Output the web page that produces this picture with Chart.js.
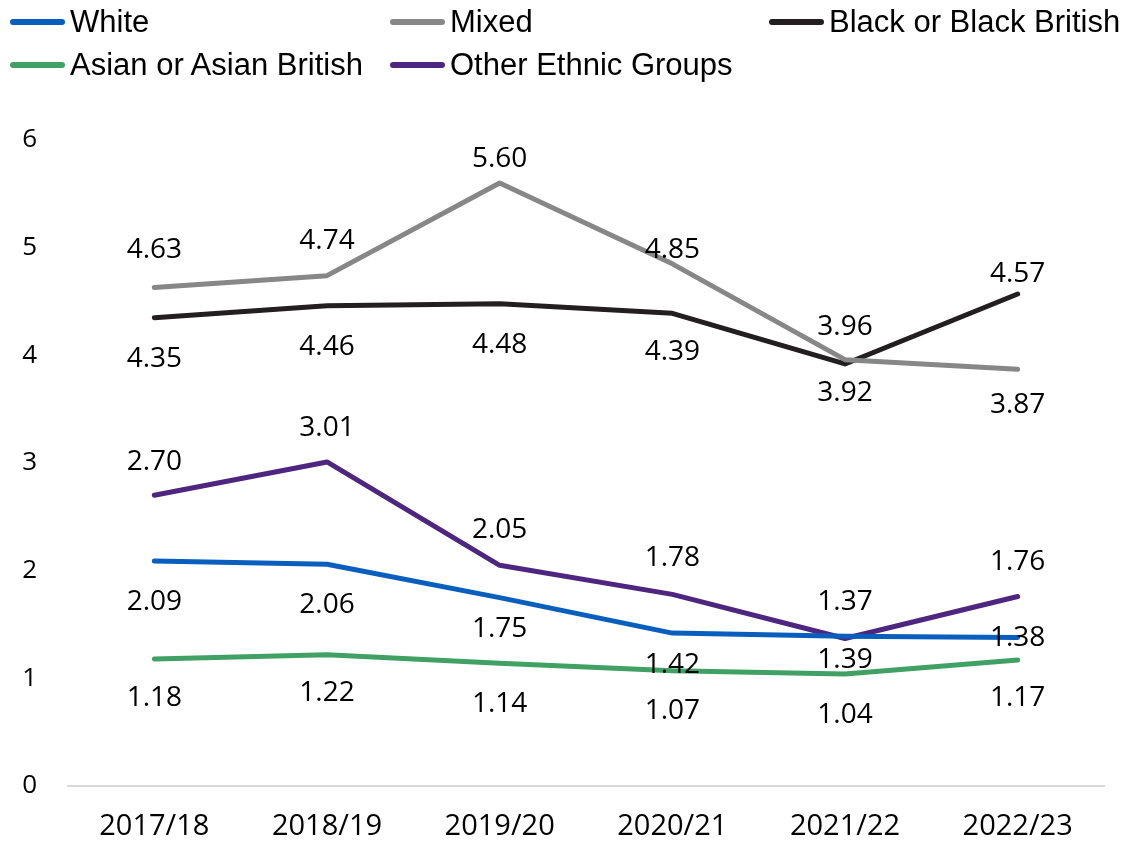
<!DOCTYPE html>
<html>
<head>
<meta charset="utf-8">
<script src="https://cdn.jsdelivr.net/npm/chart.js@4"></script>
<style>
  body { margin: 0; background: #fff; }
  #wrap { position: relative; width: 1130px; height: 842px; }
  #legend {
    position: absolute; left: 0; top: 0; width: 1130px; height: 90px;
    font-family: "Liberation Sans", Arial, sans-serif; font-size: 31px; color: #000;
  }
  .item { position: absolute; display: flex; align-items: center; white-space: nowrap; }
  .swatch { width: 55px; height: 6px; border-radius: 3px; margin-right: 5px; }
</style>
</head>
<body>
<div id="wrap">
  <canvas id="grafico"></canvas>
  <div id="legend"></div>
</div>
<script>
// Anos letivos
const years = ['2017/18', '2018/19', '2019/20', '2020/21', '2021/22', '2022/23'];

// Taxas por grupo étnico
const white = [2.09, 2.06, 1.75, 1.42, 1.39, 1.38];
const mixed = [4.63, 4.74, 5.60, 4.85, 3.96, 3.87];
const black = [4.35, 4.46, 4.48, 4.39, 3.92, 4.57];
const asian = [1.18, 1.22, 1.14, 1.07, 1.04, 1.17];
const other = [2.70, 3.01, 2.05, 1.78, 1.37, 1.76];

// Ticks do eixo Y
const yTicks = [0, 1, 2, 3, 4, 5, 6];

// Deslocamento vertical (px) de cada rótulo em relação ao ponto
const labelDy = {
    white: [40, 40, 30, 31, 23, 0],
    mixed: [-38, -36, -25, -15, -34, 35],
    black: [40, 40, 40, 38, 28, -21],
    asian: [38, 37, 40, 39, 40, 37],
    other: [-34, -35, -36, -37, -37, -35]
};

const series = [
    { key: 'white', label: 'White', data: white, color: '#0A5FBE' },
    { key: 'mixed', label: 'Mixed', data: mixed, color: '#878787' },
    { key: 'black', label: 'Black or Black British', data: black, color: '#231F20' },
    { key: 'asian', label: 'Asian or Asian British', data: asian, color: '#41A064' },
    { key: 'other', label: 'Other Ethnic Groups', data: other, color: '#4E2680' }
];

// Posição de cada item da legenda (coluna x, linha y)
const legendPos = [[10, 22], [390, 22], [769, 22], [10, 65], [390, 65]];

// Desenha os valores ao lado dos pontos
const valueLabels = {
    id: 'valueLabels',
    afterDatasetsDraw(chart) {
        const ctx = chart.ctx;
        ctx.save();
        ctx.font = '28px "Open Sans"';
        ctx.fillStyle = '#000';
        ctx.textAlign = 'center';
        ctx.textBaseline = 'middle';
        chart.data.datasets.forEach((ds, i) => {
            const meta = chart.getDatasetMeta(i);
            meta.data.forEach((pt, j) => {
                const dy = labelDy[ds.key][j];
                ctx.fillText(ds.data[j].toFixed(2), pt.x, pt.y + dy + 1);
            });
        });
        ctx.restore();
    }
};

const chart = new Chart(document.getElementById('grafico'), {
    type: 'line',
    data: {
        labels: years,
        datasets: series.map(s => ({
            key: s.key,
            label: s.label,
            data: s.data,
            borderColor: s.color,
            backgroundColor: s.color,
            borderWidth: 5,
            borderCapStyle: 'round',
            borderJoinStyle: 'round',
            pointRadius: 0,
            tension: 0
        }))
    },
    options: {
        responsive: true,
        maintainAspectRatio: false,
        animation: false,
        layout: { padding: { top: 140, right: 26, left: 0, bottom: 0 } },
        plugins: {
            legend: { display: false },
            tooltip: { enabled: false }
        },
        scales: {
            x: {
                offset: true,
                grid: { display: false, drawTicks: false },
                border: { display: true, color: '#D9D9D9', width: 2 },
                ticks: {
                    color: '#000',
                    font: { family: 'Open Sans', size: 29 },
                    padding: 23,
                    maxRotation: 0
                },
                afterFit(scale) { scale.height = 56; }
            },
            y: {
                min: 0,
                max: 6,
                afterBuildTicks(scale) { scale.ticks = yTicks.map(v => ({ value: v })); },
                grid: { display: false, drawTicks: false },
                border: { display: false },
                ticks: {
                    color: '#000',
                    font: { family: 'Open Sans', size: 26 },
                    padding: 31
                },
                afterFit(scale) { scale.width = 68; }
            }
        }
    },
    plugins: [valueLabels]
});

// Legenda em HTML montada a partir dos datasets
const legend = document.getElementById('legend');
chart.data.datasets.forEach((ds, i) => {
    const item = document.createElement('div');
    item.className = 'item';
    item.style.left = legendPos[i][0] + 'px';
    item.style.top = (legendPos[i][1] - 18) + 'px';
    item.style.height = '36px';
    const sw = document.createElement('span');
    sw.className = 'swatch';
    sw.style.background = ds.borderColor;
    const txt = document.createElement('span');
    txt.textContent = ds.label;
    item.appendChild(sw);
    item.appendChild(txt);
    legend.appendChild(item);
});
</script>
</body>
</html>
